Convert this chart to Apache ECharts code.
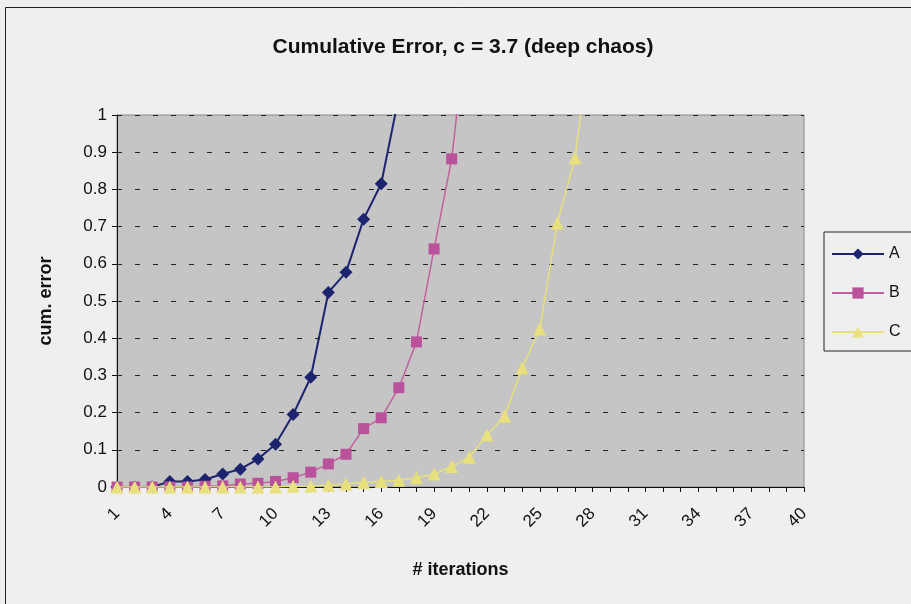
<!DOCTYPE html>
<html lang="en">
<head>
  <meta charset="UTF-8">
  <title>Cumulative Error</title>
  <style>
    html, body { margin: 0; padding: 0; background: #efefef; }
  </style>
</head>
<body>
<div id="main" style="width: 911px;height:604px;"></div>
<script src="https://cdn.jsdelivr.net/npm/echarts@6/dist/echarts.min.js"></script>
<script type="text/javascript">
  const iterations = ['1', '2', '3', '4', '5', '6', '7', '8', '9', '10',
    '11', '12', '13', '14', '15', '16', '17', '18', '19', '20',
    '21', '22', '23', '24', '25', '26', '27', '28', '29', '30',
    '31', '32', '33', '34', '35', '36', '37', '38', '39', '40']

  const seriesA = [0, 0, 0, 0.015, 0.015, 0.02, 0.035, 0.048, 0.075, 0.115,
    0.195, 0.295, 0.523, 0.577, 0.72, 0.815, 1.05]
  const seriesB = [0, 0, 0, 0, 0, 0.002, 0.003, 0.008, 0.01, 0.015,
    0.025, 0.04, 0.062, 0.088, 0.157, 0.186, 0.267, 0.39, 0.64, 0.882, 1.3]
  const seriesC = [0, 0, 0, 0, 0, 0, 0, 0, 0, 0,
    0.002, 0.003, 0.005, 0.008, 0.012, 0.015, 0.018, 0.025, 0.035, 0.055,
    0.08, 0.14, 0.19, 0.32, 0.425, 0.71, 0.885, 1.25]

  const font = "'Liberation Sans', Arial, sans-serif"

  const Chart = echarts.init(document.getElementById('main'))

  const option = {
    backgroundColor: '#efefef',
    animation: false,
    title: {
      text: 'Cumulative Error, c = 3.7 (deep chaos)',
      left: 458,
      top: 32,
      textAlign: 'center',
      textStyle: { fontFamily: font, fontSize: 21, fontWeight: 'bold', color: '#111' }
    },
    graphic: [{
      type: 'rect',
      shape: { x: 5.5, y: 7.5, width: 1000, height: 1000 },
      style: { fill: null, stroke: '#222', lineWidth: 1 },
      silent: true
    }],
    legend: {
      orient: 'vertical',
      left: 824,
      top: 232,
      padding: [14, 20, 11, 7],
      itemGap: 23,
      itemWidth: 52,
      itemHeight: 14,
      borderColor: '#222',
      borderWidth: 1,
      textStyle: { fontFamily: font, fontSize: 16, color: '#111' },
      data: ['A', 'B', 'C']
    },
    grid: {
      left: 117,
      right: 107,
      top: 115,
      bottom: 117,
      show: true,
      backgroundColor: '#c5c5c5',
      borderColor: '#8a8a8a',
      borderWidth: 1
    },
    xAxis: {
      type: 'category',
      data: iterations,
      boundaryGap: false,
      name: '# iterations',
      nameLocation: 'middle',
      nameGap: 74,
      nameTextStyle: { fontFamily: font, fontSize: 18, fontWeight: 'bold', color: '#111' },
      axisLine: { lineStyle: { color: '#111', width: 1 } },
      axisTick: { interval: 0, length: 5, lineStyle: { color: '#111' } },
      axisLabel: {
        interval: 2,
        rotate: 45,
        margin: 24,
        fontFamily: font,
        fontSize: 17,
        color: '#111'
      },
      splitLine: { show: false }
    },
    yAxis: {
      type: 'value',
      min: 0,
      max: 1,
      interval: 0.1,
      name: 'cum. error',
      nameLocation: 'middle',
      nameGap: 62,
      nameTextStyle: { fontFamily: font, fontSize: 18, fontWeight: 'bold', color: '#111' },
      axisLine: { show: true, lineStyle: { color: '#111', width: 1 } },
      axisTick: { show: true, length: 5, lineStyle: { color: '#111' } },
      axisLabel: {
        margin: 10,
        fontFamily: font,
        fontSize: 17,
        color: '#111'
      },
      splitLine: {
        show: true,
        lineStyle: { color: '#222', type: [5, 13], width: 1 }
      }
    },
    series: [{
      name: 'A',
      type: 'line',
      data: seriesA,
      symbol: 'diamond',
      symbolSize: 13,
      showAllSymbol: true,
      clip: true,
      color: '#1c2470',
      lineStyle: { width: 2, color: '#1c2470' },
      itemStyle: { color: '#1c2470' },
      z: 2
    }, {
      name: 'B',
      type: 'line',
      data: seriesB,
      symbol: 'rect',
      symbolSize: 11,
      showAllSymbol: true,
      clip: true,
      color: '#b9529a',
      lineStyle: { width: 1.5, color: '#c2609f' },
      itemStyle: { color: '#b9529a' },
      z: 3
    }, {
      name: 'C',
      type: 'line',
      data: seriesC,
      symbol: 'triangle',
      symbolSize: 13,
      showAllSymbol: true,
      clip: true,
      color: '#e8e07c',
      lineStyle: { width: 1.5, color: '#e6e07a' },
      itemStyle: { color: '#e8e07c' },
      z: 4
    }]
  }

  Chart.setOption(option)
</script>
</body>
</html>
